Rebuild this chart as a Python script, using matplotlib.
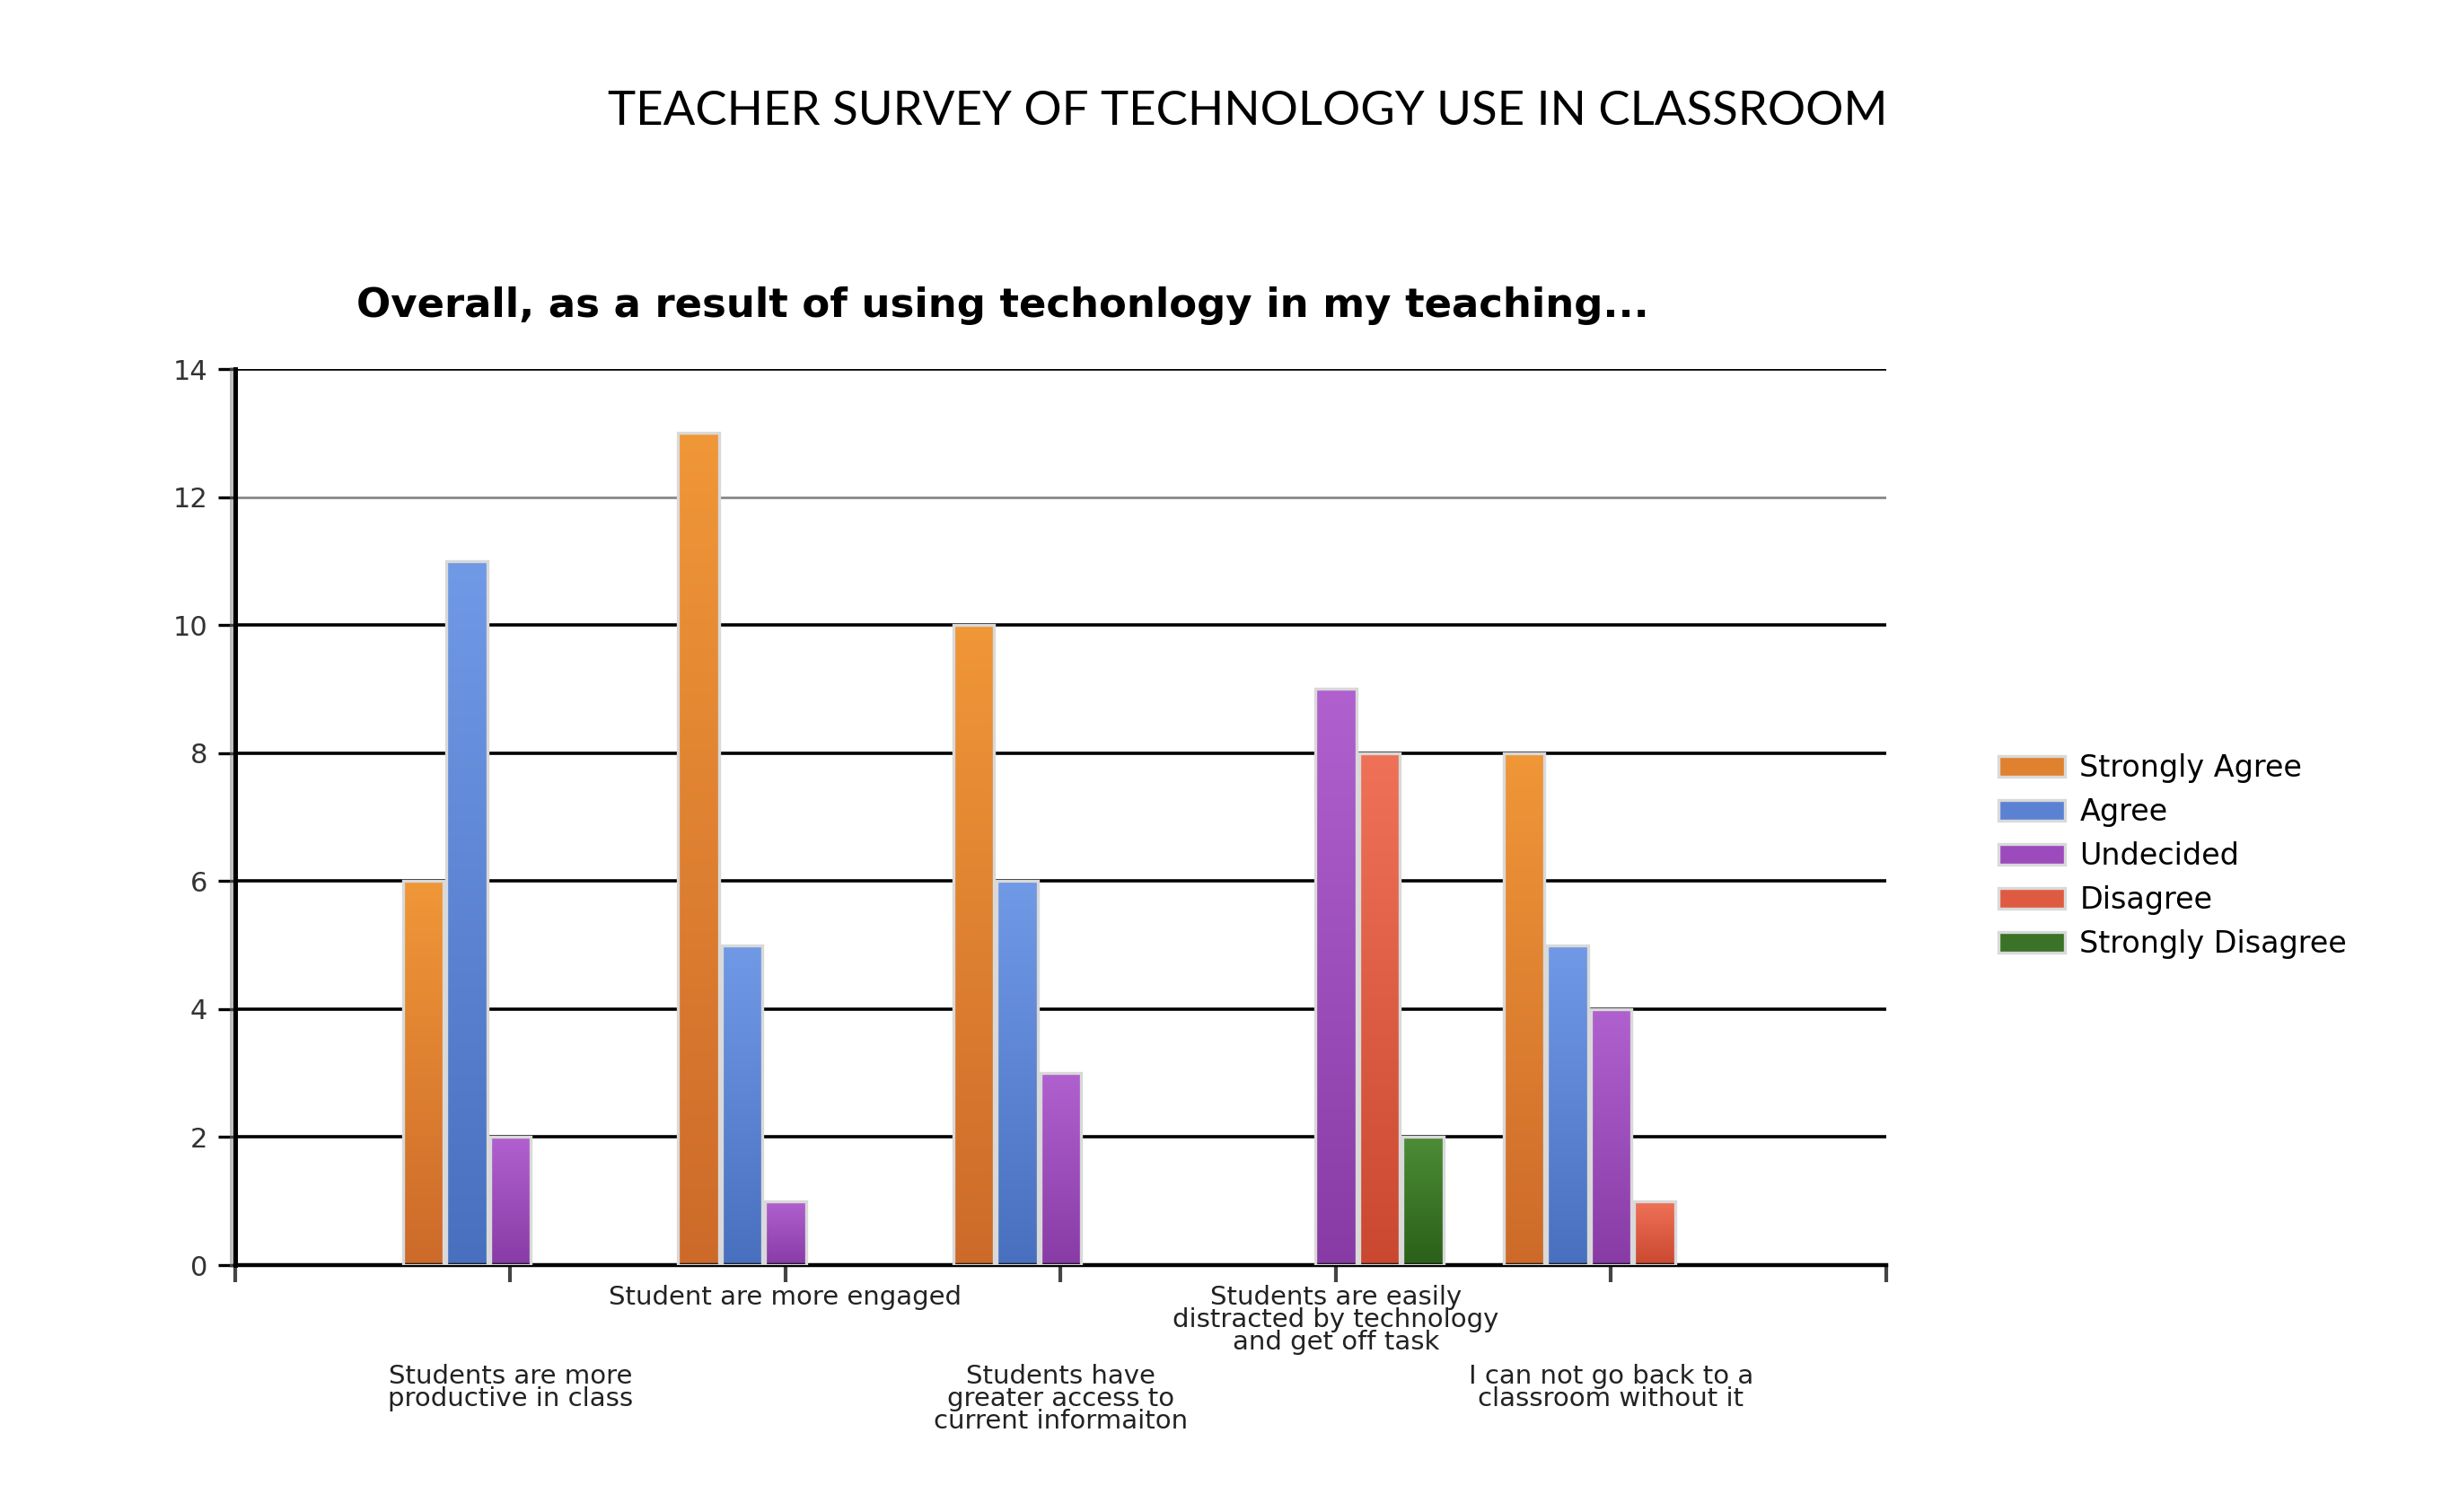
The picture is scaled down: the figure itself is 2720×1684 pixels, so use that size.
import numpy as np
import matplotlib
matplotlib.use("Agg")
import matplotlib.pyplot as plt
from matplotlib.patches import Patch
import matplotlib.patheffects as pe
from matplotlib.colors import LinearSegmentedColormap

# ---- data ----
categories = [
    "Students are more\nproductive in class",
    "Student are more engaged",
    "Students have\ngreater access to\ncurrent informaiton",
    "Students are easily\ndistracted by technology\nand get off task",
    "I can not go back to a\nclassroom without it",
]
series_names = ["Strongly Agree", "Agree", "Undecided", "Disagree", "Strongly Disagree"]
strongly_agree = [6, 13, 10, 0, 8]
agree = [11, 5, 6, 0, 5]
undecided = [2, 1, 3, 9, 4]
disagree = [0, 0, 0, 8, 1]
strongly_disagree = [0, 0, 0, 2, 0]
series_values = [strongly_agree, agree, undecided, disagree, strongly_disagree]
y_ticks = [0, 2, 4, 6, 8, 10, 12, 14]

# ---- styles ----
top_colors = ["#F09738", "#7099E6", "#B061CF", "#EF7258", "#4D8C37"]
bot_colors = ["#CD6A2A", "#4870BF", "#883BA5", "#CA4830", "#2A6018"]
mid_colors = ["#E0812F", "#5B82D2", "#9C4BBC", "#DE5B42", "#3A7228"]

fig = plt.figure(figsize=(13.6, 8.42), dpi=200)
ax = fig.add_axes([0.0963, 0.1633, 0.6761, 0.5926])

x = np.arange(1, len(categories) + 1)
bw = 0.158
n = len(series_names)
for i, vals in enumerate(series_values):
    offs = (i - (n - 1) / 2) * bw
    bars = ax.bar(x + offs, vals, width=bw * 0.94, facecolor="none",
                  edgecolor="#d9d9d9", linewidth=1.2, zorder=3)
    cmap = LinearSegmentedColormap.from_list("g%d" % i, [bot_colors[i], top_colors[i]])
    grad = np.linspace(0, 1, 256).reshape(-1, 1)
    for b in bars:
        h = b.get_height()
        if h <= 0:
            b.set_linewidth(0)
            b.set_visible(False)
            continue
        bx, bwid = b.get_x(), b.get_width()
        ax.imshow(grad[::-1], extent=[bx, bx + bwid, 0, h], cmap=cmap,
                  aspect="auto", origin="upper", zorder=2.5, interpolation="bilinear")

ax.set_xlim(0, 6)
ax.set_ylim(0, 14)
ax.set_yticks(y_ticks)
ax.set_yticklabels([str(v) for v in y_ticks], fontsize=11, color="#333333",
                   family="DejaVu Sans")
ax.tick_params(axis="y", length=7, width=1.2, color="black", direction="out", pad=4)
for v in y_ticks[1:]:
    ax.axhline(v, color="#888888" if v == 12 else "black",
               linewidth=1.0 if v == 12 else 1.3, zorder=1)

ax.set_xticks([0, 1, 2, 3, 4, 5, 6])
ax.set_xticklabels([])
ax.tick_params(axis="x", length=7, width=1.5, color="#444444", direction="out")

for s in ["top", "right"]:
    ax.spines[s].set_visible(False)
ax.spines["bottom"].set_linewidth(1.6)
ax.spines["left"].set_linewidth(1.8)
ax.spines["left"].set_path_effects([
    pe.SimpleLineShadow(offset=(-1.5, 0), shadow_color="gray", alpha=0.5),
    pe.Normal()])

for i, lab in enumerate(categories):
    upper = (i % 2 == 1)
    ax.annotate(lab, xy=(x[i], 0), xycoords=("data", "axes fraction"),
                xytext=(0, -8 if upper else -39.5), textcoords="offset points",
                ha="center", va="top", fontsize=10.5, color="#222222",
                family="DejaVu Sans", linespacing=0.86)

fig.text(0.511, 0.926, "TEACHER SURVEY OF TECHNOLOGY USE IN CLASSROOM",
         ha="center", va="center", fontsize=19, family="Lato", color="black")
ax.set_title("Overall, as a result of using techonlogy in my teaching...",
             fontsize=16.2, fontweight="bold", family="DejaVu Sans",
             x=0.465, y=1.0, pad=21)

handles = [Patch(facecolor=mid_colors[i], edgecolor="#d9d9d9", linewidth=1.2)
           for i in range(n)]
fig.legend(handles, series_names, loc="upper left", bbox_to_anchor=(0.8075, 0.5195),
           frameon=False, handlelength=2.2, handleheight=0.7,
           handletextpad=0.5, labelspacing=0.48,
           prop={"family": "DejaVu Sans", "size": 12})

fig.savefig("out.png", dpi=200, facecolor="white")
